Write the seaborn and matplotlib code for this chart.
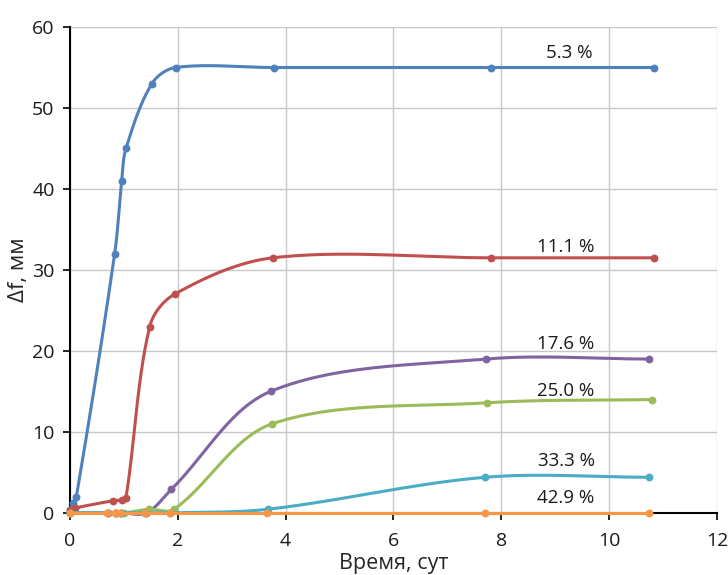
import numpy as np
import pandas as pd
import matplotlib
matplotlib.use("Agg")
import matplotlib.pyplot as plt
import seaborn as sns

# values (time, days -> deflection, mm)
labels = ['5.3 %', '11.1 %', '17.6 %', '25.0 %', '33.3 %', '42.9 %']
colors = ['#4F81BD', '#C0504D', '#8064A2', '#9BBB59', '#4BACC6', '#F79646']

t_53 = [0, 0.05, 0.12, 0.83, 0.96, 1.04, 1.52, 1.96, 3.78, 7.8, 10.83]
f_53 = [0.3, 1.2, 2.0, 32, 41, 45, 53, 55, 55, 55, 55]
t_111 = [0, 0.1, 0.8, 0.96, 1.04, 1.48, 1.94, 3.76, 7.8, 10.83]
f_111 = [0.3, 0.6, 1.5, 1.6, 1.9, 23, 27, 31.5, 31.5, 31.5]
t_176 = [0, 0.7, 0.85, 0.95, 1.42, 1.88, 3.72, 7.72, 10.74]
f_176 = [0, 0, 0, 0, 0, 2.9, 15, 19, 19]
t_250 = [0, 0.7, 0.85, 1.0, 1.46, 1.93, 3.75, 7.74, 10.8]
f_250 = [0, 0, 0, 0, 0.45, 0.45, 11, 13.6, 14]
t_333 = [0, 0.7, 0.85, 0.95, 1.4, 1.85, 3.67, 7.7, 10.74]
f_333 = [0, 0, 0, 0, 0, 0, 0.45, 4.4, 4.4]
t_429 = [0, 0.69, 0.83, 0.93, 1.39, 1.85, 3.66, 7.69, 10.74]
f_429 = [0, 0, 0, 0, 0, 0, 0, 0, 0]

series = [(t_53, f_53), (t_111, f_111), (t_176, f_176),
          (t_250, f_250), (t_333, f_333), (t_429, f_429)]
label_pos = [(9.25, 56.8), (9.2, 32.8), (9.2, 20.9), (9.2, 15.0), (9.2, 6.4), (9.2, 1.85)]


def smooth(x, y, sx=54.0, sy=8.1, n=30):
    # smoothed line like Excel: cubic Bezier through the points,
    # tangent length scaled by the neighbouring segment lengths
    p = np.column_stack([np.array(x) * sx, np.array(y) * sy])
    p = np.vstack([p[0], p, p[-1]])
    out = []
    s = np.linspace(0, 1, n)[:, None]
    for i in range(1, len(p) - 2):
        p0, p1, p2, p3 = p[i - 1], p[i], p[i + 1], p[i + 2]
        d01 = np.hypot(*(p1 - p0))
        d12 = np.hypot(*(p2 - p1))
        d23 = np.hypot(*(p3 - p2))
        if d12 == 0:
            continue
        c1 = p1 + (p2 - p0) * d12 / (3 * (d01 + d12))
        c2 = p2 - (p3 - p1) * d12 / (3 * (d12 + d23))
        seg = ((1 - s) ** 3) * p1 + 3 * ((1 - s) ** 2) * s * c1 + 3 * (1 - s) * s ** 2 * c2 + s ** 3 * p2
        out.append(seg)
    out = np.vstack(out)
    return out[:, 0] / sx, out[:, 1] / sy


sns.set_style("whitegrid")
plt.rcParams['font.family'] = ['Open Sans', 'DejaVu Sans']

fig = plt.figure(figsize=(7.28, 5.75), dpi=100)
ax = fig.add_axes([0.096, 0.108, 0.889, 0.845])

for k, ((t, f), c, lab, (lx, ly)) in enumerate(zip(series, colors, labels, label_pos)):
    xs, ys = smooth(t, f)
    sns.lineplot(x=xs, y=ys, color=c, linewidth=2.2, sort=False, ax=ax,
                 zorder=3 + k, clip_on=False)
    sns.scatterplot(x=t, y=f, color=c, s=32, edgecolor=c, linewidth=0,
                    zorder=3.5 + k, clip_on=False, ax=ax)
    ax.text(lx, ly, lab, ha='center', va='center', fontsize=13.5, color='#1a1a1a', zorder=10)

ax.set_xlim(0, 12)
ax.set_ylim(0, 60)
ax.set_xticks(range(0, 13, 2))
ax.set_yticks(range(0, 61, 10))
ax.grid(True, color='#c8c8c8', linewidth=1)
for side in ['top', 'right']:
    ax.spines[side].set_visible(False)
for side in ['left', 'bottom']:
    ax.spines[side].set_color('black')
    ax.spines[side].set_linewidth(1.5)
    ax.spines[side].set_zorder(2)
ax.tick_params(axis='both', direction='out', length=5, width=1.2, color='black',
               labelsize=14, labelcolor='#1a1a1a', bottom=True, left=True)
ax.tick_params(axis='x', pad=9)
ax.tick_params(axis='y', pad=6)
ax.set_xlabel('Время, сут', fontsize=15.5, labelpad=2)
ax.set_ylabel('Δf, мм', fontsize=16, labelpad=2)

fig.savefig('out.png', dpi=100)
